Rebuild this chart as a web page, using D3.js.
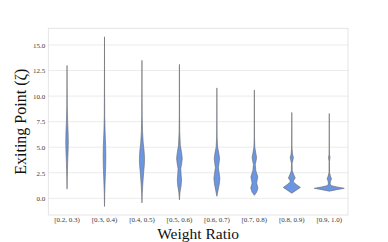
<!DOCTYPE html>
<html>
<head>
<meta charset="utf-8">
<script src="https://cdn.jsdelivr.net/npm/d3@7"></script>
<style>
	body { margin: 0; background: #fff; }
	svg { display: block; }
</style>
</head>
<body>
<div id="chart"></div>
<script>
(function () {
	// categories and y ticks
	var categories = ['[0.2, 0.3)', '[0.3, 0.4)', '[0.4, 0.5)', '[0.5, 0.6)', '[0.6, 0.7)', '[0.7, 0.8)', '[0.8, 0.9)', '[0.9, 1.0)'];
	var yTicks = [0, 2.5, 5, 7.5, 10, 12.5, 15];

	// density profiles: [exiting point, relative density]
	var density02 = [[0.9, 0], [2, 0.015], [3.5, 0.04], [4.5, 0.07], [5.5, 0.085], [6.5, 0.07], [7.5, 0.04], [9, 0.015], [11, 0.006], [13, 0]];
	var density03 = [[-0.8, 0], [0.5, 0.015], [2, 0.05], [3.2, 0.08], [4.2, 0.09], [5.2, 0.075], [6.5, 0.04], [8, 0.015], [10, 0.007], [13, 0.003], [15.8, 0]];
	var density04 = [[-0.45, 0], [0.5, 0.02], [1.5, 0.06], [2.5, 0.11], [3.3, 0.16], [3.9, 0.17], [4.5, 0.15], [5.5, 0.08], [6.5, 0.04], [8, 0.015], [10, 0.006], [13.5, 0]];
	var density05 = [[-0.15, 0], [0.6, 0.04], [1.2, 0.11], [1.8, 0.14], [2.4, 0.11], [2.9, 0.09], [3.4, 0.15], [3.9, 0.19], [4.5, 0.14], [5.2, 0.06], [6.5, 0.02], [8, 0.01], [10, 0.005], [13.1, 0]];
	var density06 = [[0.2, 0], [0.8, 0.08], [1.4, 0.16], [1.95, 0.2], [2.5, 0.15], [3.0, 0.1], [3.4, 0.14], [3.9, 0.18], [4.4, 0.13], [5, 0.05], [6, 0.015], [7.5, 0.006], [10.8, 0]];
	var density07 = [[0.3, 0], [0.6, 0.15], [1.0, 0.24], [1.5, 0.15], [2.1, 0.23], [2.7, 0.1], [3.3, 0.06], [3.7, 0.12], [4.0, 0.15], [4.4, 0.1], [5, 0.03], [6, 0.01], [8, 0.004], [10.6, 0]];
	var density08 = [[0.5, 0], [0.8, 0.3], [1.07, 0.57], [1.35, 0.3], [1.6, 0.1], [1.75, 0.12], [2.0, 0.23], [2.3, 0.13], [2.7, 0.03], [3.4, 0.02], [3.8, 0.08], [4.0, 0.11], [4.3, 0.05], [5, 0.01], [8.4, 0]];
	var density09 = [[0.7, 0], [0.85, 0.5], [0.98, 1.0], [1.12, 0.5], [1.25, 0.1], [1.45, 0.06], [1.7, 0.08], [1.9, 0.15], [2.15, 0.08], [2.5, 0.02], [3.6, 0.015], [4.0, 0.05], [4.3, 0.015], [5, 0.005], [8.3, 0]];
	var densities = [density02, density03, density04, density05, density06, density07, density08, density09];

	var width = 388;
	var height = 242;
	var margin = { top: 28.3, right: 40, bottom: 27, left: 48.3 };
	var fill = '#6b96e2';
	var lineColor = '#666';
	var textColor = '#3a3a3a';
	var serif = '"Liberation Serif", "Times New Roman", serif';

	var svg = d3.select('#chart').append('svg')
		.attr('width', width).attr('height', height);

	var x = d3.scaleBand()
		.domain(categories)
		.range([margin.left, width - margin.right]);
	var y = d3.scaleLinear()
		.domain([-1.63, 16.63])
		.range([height - margin.bottom, margin.top]);
	var w = d3.scaleLinear()
		.domain([0, d3.max(densities, d => d3.max(d, p => p[1]))])
		.range([0, 15]);

	// grid
	svg.append('g').selectAll('line')
		.data(yTicks)
		.enter().append('line')
		.attr('x1', margin.left).attr('x2', width - margin.right)
		.attr('y1', d => y(d)).attr('y2', d => y(d))
		.attr('stroke', '#e6e6e6').attr('stroke-width', 0.8);

	svg.append('rect')
		.attr('x', margin.left).attr('y', margin.top)
		.attr('width', width - margin.right - margin.left)
		.attr('height', height - margin.bottom - margin.top)
		.attr('fill', 'none').attr('stroke', '#dedede').attr('stroke-width', 0.8);

	// axes
	var yAxis = svg.append('g')
		.attr('transform', 'translate(' + margin.left + ',0)')
		.call(d3.axisLeft(y).tickValues(yTicks).tickFormat(d3.format('.1f')).tickSize(0).tickPadding(3));
	var xAxis = svg.append('g')
		.attr('transform', 'translate(0,' + (height - margin.bottom) + ')')
		.call(d3.axisBottom(x).tickSize(0).tickPadding(2.5));
	[xAxis, yAxis].forEach(axis => {
		axis.attr('font-family', serif);
		axis.select('.domain').remove();
		axis.selectAll('text')
			.attr('font-family', serif)
			.attr('font-size', 7)
			.attr('fill', textColor);
	});

	// violins
	var area = d3.area()
		.y(p => y(p[0]))
		.x0(p => -w(p[1]))
		.x1(p => w(p[1]))
		.curve(d3.curveLinear);

	svg.append('g').selectAll('path')
		.data(densities)
		.enter().append('path')
		.attr('transform', (d, i) => 'translate(' + (x(categories[i]) + x.bandwidth() / 2) + ',0)')
		.attr('d', area)
		.attr('fill', fill)
		.attr('stroke', lineColor)
		.attr('stroke-width', 0.6)
		.attr('stroke-linejoin', 'round');

	// labels
	svg.append('text')
		.attr('transform', 'translate(26,' + (margin.top + (height - margin.bottom - margin.top) / 2) + ') rotate(-90)')
		.attr('text-anchor', 'middle')
		.attr('font-family', serif)
		.attr('font-size', 16)
		.attr('fill', '#111')
		.text('Exiting Point (ζ)');

	svg.append('text')
		.attr('x', margin.left + (width - margin.right - margin.left) / 2)
		.attr('y', 238.5)
		.attr('text-anchor', 'middle')
		.attr('font-family', serif)
		.attr('font-size', 15.5)
		.attr('fill', '#111')
		.text('Weight Ratio');
})();
</script>
</body>
</html>
